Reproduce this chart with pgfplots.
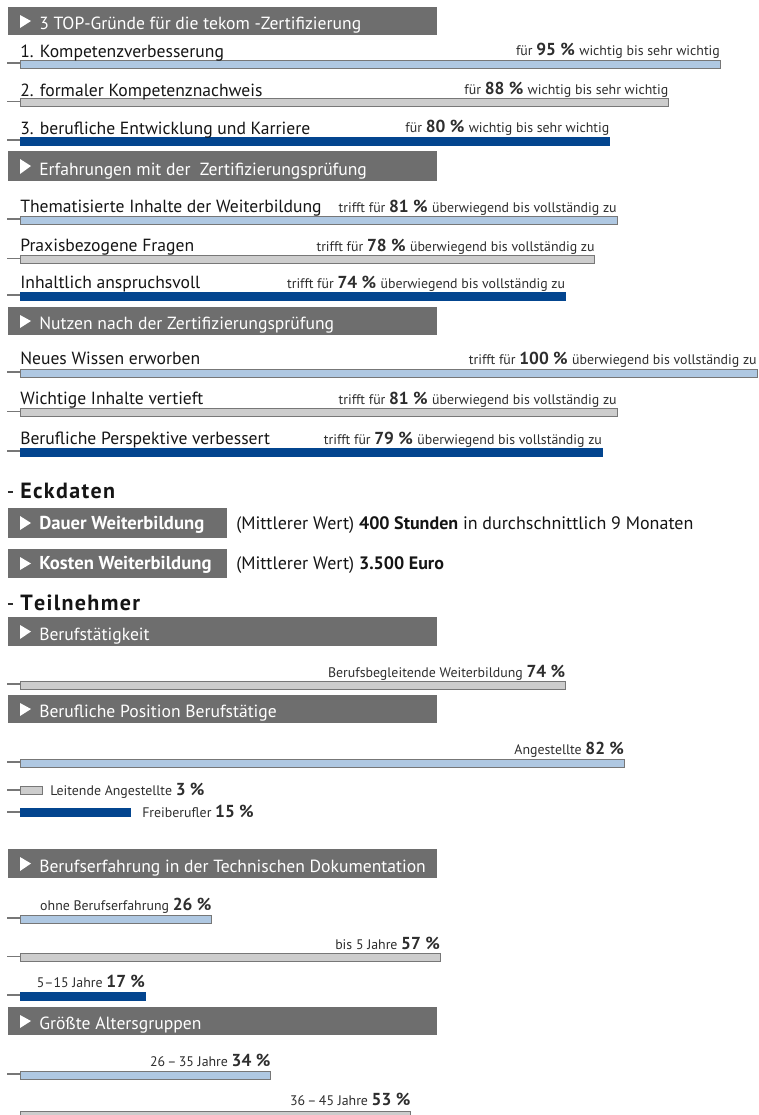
\documentclass[border=0pt]{standalone}
\usepackage{pgfplots}
\pgfplotsset{compat=1.18}
\usepackage{fontspec}
\setmainfont{PT Sans}
\definecolor{lb}{HTML}{AFC8E2}
\definecolor{lg}{HTML}{CDCDCD}
\definecolor{db}{HTML}{03458F}
\definecolor{ol}{HTML}{777777}
\definecolor{bn}{HTML}{6E6E6E}
\definecolor{tx}{HTML}{151515}
\definecolor{ts}{HTML}{2E2E2E}
\newcommand{\X}[1]{{((#1)-20)/7.37}}
\newcommand{\fa}{\fontsize{13.2}{15}\selectfont}% main labels
\newcommand{\fb}{\fontsize{10.4}{12}\selectfont}% small text
\newcommand{\fn}{\fontsize{13}{15}\selectfont\bfseries}% bold numbers
\newcommand{\fh}{\fontsize{16.5}{18}\selectfont\bfseries}% headings
\newcommand{\banner}[4]{%
  \fill[bn] (axis cs:\X{8},#2) rectangle (axis cs:\X{#1},#3);
  \fill[white] (axis cs:\X{20},{#2+8}) -- (axis cs:\X{31},{(#2+#3)/2}) -- (axis cs:\X{20},{#3-7}) -- cycle;
  \node[anchor=base west, text=white, inner sep=0pt, font=\fa] at (axis cs:\X{39},{#3-6}) {#4};
}
\newcommand{\tick}[1]{\draw[ol, line width=0.8pt] (axis cs:\X{7},#1) -- (axis cs:0,#1);}
\newcommand{\lab}[3]{\node[anchor=base west, inner sep=0pt, text=tx, font=\fa] at (axis cs:#1,#2) {#3};}
\newcommand{\rl}[3]{\node[anchor=base east, inner sep=0pt, text=ts] at (axis cs:#1,#2) {#3};}
\begin{document}
\begin{tikzpicture}
\begin{axis}[
  scale only axis, width=568.5pt, height=836.25pt,
  xmin=-2.7137, xmax=100.136, ymin=0, ymax=1115, y dir=reverse,
  hide axis, clip=true,
  xbar, bar shift=0pt, bar width=6pt,
]
% bars (percent, vertical position)
\addplot[fill=lb, draw=ol, line width=0.7pt] coordinates {(95,64) (81,220) (100,373) (82,763) (26,919) (34,1075)};
\addplot[fill=lg, draw=ol, line width=0.7pt] coordinates {(88,102.5) (78,259.5) (81,412.5) (74,685) (3,790) (57,957.5) (53,1115)};
\addplot[fill=db, draw=db, line width=0.7pt] coordinates {(80,141) (74,296) (79,452) (15,812.5) (17,996)};

% left ticks
\tick{63}\tick{101.5}\tick{140}\tick{219}\tick{258.5}\tick{295}\tick{372}\tick{411.5}\tick{451}
\tick{684}\tick{762}\tick{790}\tick{812}\tick{918}\tick{956.5}\tick{995}\tick{1074}

% section 1
\banner{437}{7}{35}{3 TOP-Gründe für die tekom -Zertifizierung}
\lab{0}{57}{1. Kompetenzverbesserung}
\rl{95}{55}{\fb für \fn 95 \% \fb\mdseries wichtig bis sehr wichtig}
\lab{0}{96}{2. formaler Kompetenznachweis}
\rl{88}{94}{\fb für \fn 88 \% \fb\mdseries wichtig bis sehr wichtig}
\lab{0}{134}{3. berufliche Entwicklung und Karriere}
\rl{80}{132}{\fb für \fn 80 \% \fb\mdseries wichtig bis sehr wichtig}

% section 2
\banner{437}{151}{181}{Erfahrungen mit der\ \ Zertifizierungsprüfung}
\lab{0}{212}{Thematisierte Inhalte der Weiterbildung}
\rl{81}{212}{\fb trifft für \fn 81 \% \fb\mdseries überwiegend bis vollständig zu}
\lab{0}{251}{Praxisbezogene Fragen}
\rl{78}{251}{\fb trifft für \fn 78 \% \fb\mdseries überwiegend bis vollständig zu}
\lab{0}{288}{Inhaltlich anspruchsvoll}
\rl{74}{288}{\fb trifft für \fn 74 \% \fb\mdseries überwiegend bis vollständig zu}

% section 3
\banner{437}{307}{335}{Nutzen nach der Zertifizierungsprüfung}
\lab{0}{364}{Neues Wissen erworben}
\rl{100}{364}{\fb trifft für \fn 100 \% \fb\mdseries überwiegend bis vollständig zu}
\lab{0}{404}{Wichtige Inhalte vertieft}
\rl{81}{404}{\fb trifft für \fn 81 \% \fb\mdseries überwiegend bis vollständig zu}
\lab{0}{444}{Berufliche Perspektive verbessert}
\rl{79}{444}{\fb trifft für \fn 79 \% \fb\mdseries überwiegend bis vollständig zu}

% Eckdaten
\draw[ts, line width=0.8pt] (axis cs:\X{8},492) -- (axis cs:\X{13},492);
\node[anchor=base west, inner sep=0pt, text=tx, font=\fh] at (axis cs:0,498) {E\kern1pt c\kern1pt k\kern1pt d\kern1pt a\kern1pt t\kern1pt e\kern1pt n};
\fill[bn] (axis cs:\X{8},508) rectangle (axis cs:\X{227},538);
\fill[white] (axis cs:\X{20},516) -- (axis cs:\X{31},523) -- (axis cs:\X{20},530) -- cycle;
\node[anchor=base west, inner sep=0pt, text=white, font=\fontsize{14}{16}\selectfont\bfseries] at (axis cs:\X{39},529) {Dauer Weiterbildung};
\node[anchor=base west, inner sep=0pt, text=tx, font=\fontsize{13.5}{15}\selectfont] at (axis cs:\X{236},529) {(Mittlerer Wert) \textbf{400 Stunden} in durchschnittlich 9 Monaten};
\fill[bn] (axis cs:\X{8},549) rectangle (axis cs:\X{227},578);
\fill[white] (axis cs:\X{20},557) -- (axis cs:\X{31},563.5) -- (axis cs:\X{20},570) -- cycle;
\node[anchor=base west, inner sep=0pt, text=white, font=\fontsize{14}{16}\selectfont\bfseries] at (axis cs:\X{39},569) {Kosten Weiterbildung};
\node[anchor=base west, inner sep=0pt, text=tx, font=\fontsize{13.5}{15}\selectfont] at (axis cs:\X{236},569) {(Mittlerer Wert) \textbf{3.500 Euro}};

% Teilnehmer
\draw[ts, line width=0.8pt] (axis cs:\X{8},604) -- (axis cs:\X{13},604);
\node[anchor=base west, inner sep=0pt, text=tx, font=\fh] at (axis cs:0,610) {T\kern1pt e\kern1pt i\kern1pt l\kern1pt n\kern1pt e\kern1pt h\kern1pt m\kern1pt e\kern1pt r};
\banner{437}{617}{646}{Berufstätigkeit}
\rl{74}{677}{\fb Berufsbegleitende Weiterbildung \fn 74 \%}
\banner{437}{695}{723}{Berufliche Position Berufstätige}
\rl{82}{754}{\fb Angestellte \fn 82 \%}
\node[anchor=base west, inner sep=0pt, text=ts] at (axis cs:\X{50},795) {\fb Leitende Angestellte \fn 3 \%};
\node[anchor=base west, inner sep=0pt, text=ts] at (axis cs:\X{142},817) {\fb Freiberufler \fn 15 \%};

\banner{437}{849}{878}{Berufserfahrung in der Technischen Dokumentation}
\rl{26}{910}{\fb ohne Berufserfahrung \fn 26 \%}
\rl{57}{949}{\fb bis 5 Jahre \fn 57 \%}
\rl{17}{987}{\fb 5–15 Jahre \fn 17 \%}

\banner{437}{1007}{1035}{Größte Altersgruppen}
\rl{34}{1066}{\fb 26\,–\,35 Jahre \fn 34 \%}
\rl{53}{1105}{\fb 36\,–\,45 Jahre \fn 53 \%}
\end{axis}
\pgfresetboundingbox
\path[use as bounding box] (current axis.south west) rectangle (current axis.north east);
\end{tikzpicture}
\end{document}
